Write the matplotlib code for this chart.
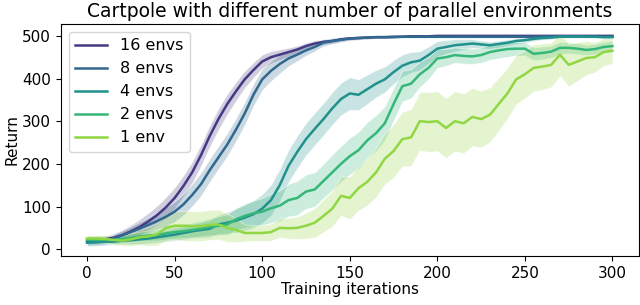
import numpy as np
import matplotlib
matplotlib.use("Agg")
import matplotlib.pyplot as plt
from matplotlib.colors import to_rgba

# training iterations, sampled every 5
iters = np.arange(0, 301, 5)

labels = ['16 envs', '8 envs', '4 envs', '2 envs', '1 env']

ret_16 = [22, 22, 23, 27, 33, 42, 52, 65, 80, 98, 120, 148, 180, 220, 265, 305,
          340, 370, 398, 420, 440, 450, 456, 462, 468, 476, 482, 486, 488, 492, 494,
          495, 496, 497, 497, 498, 498, 499, 499, 499, 500, 500, 500, 500, 500, 500,
          500, 500, 500, 500, 500, 500, 500, 500, 500, 500, 500, 500, 500, 500, 500]
ret_8 = [17, 17, 20, 25, 32, 40, 48, 57, 66, 76, 88, 105, 127, 152, 185, 215,
         245, 280, 318, 362, 398, 418, 434, 447, 456, 466, 474, 484, 488, 491, 494,
         495, 496, 497, 497, 497, 498, 498, 498, 498, 498, 498, 498, 498, 498, 498,
         498, 498, 498, 498, 498, 498, 499, 499, 499, 499, 499, 498, 498, 498, 498]
ret_4 = [15, 16, 17, 18, 20, 21, 23, 25, 28, 31, 34, 38, 42, 45, 48, 58,
         62, 67, 74, 82, 95, 115, 150, 195, 228, 258, 282, 305, 330, 352, 365,
         362, 375, 388, 398, 415, 430, 438, 442, 455, 470, 474, 478, 480, 482, 480,
         478, 481, 484, 488, 490, 493, 495, 496, 498, 498, 498, 498, 498, 497, 497]
ret_2 = [22, 22, 22, 21, 24, 27, 30, 32, 33, 37, 40, 42, 45, 48, 52, 55,
         58, 70, 78, 84, 88, 96, 102, 115, 120, 135, 140, 160, 180, 200, 218,
         232, 255, 272, 295, 340, 382, 388, 410, 425, 447, 450, 455, 453, 452, 455,
         462, 466, 469, 470, 470, 458, 460, 463, 472, 472, 470, 467, 469, 474, 476]
ret_1 = [25, 25, 24, 22, 20, 23, 28, 30, 35, 50, 55, 55, 54, 54, 57, 58,
         50, 45, 38, 38, 38, 40, 50, 49, 50, 55, 62, 78, 95, 125, 120,
         143, 158, 180, 212, 230, 258, 262, 300, 298, 300, 284, 300, 295, 310, 305,
         315, 340, 365, 398, 410, 425, 428, 432, 456, 432, 440, 448, 450, 462, 465]

# half width of the shaded band
band_16 = [8, 8, 8, 10, 12, 15, 18, 20, 22, 24, 25, 25, 25, 25, 25, 25,
           24, 22, 20, 18, 16, 14, 12, 10, 9, 8, 7, 6, 5, 4, 4,
           3, 3, 2, 2, 2, 2, 2, 2, 1, 1, 1, 1, 1, 1, 1,
           1, 1, 1, 1, 1, 1, 1, 1, 1, 1, 1, 1, 1, 1, 1]
band_8 = [7, 7, 8, 10, 12, 14, 16, 18, 20, 22, 24, 25, 26, 27, 27, 27,
          27, 27, 27, 26, 25, 24, 22, 18, 15, 12, 10, 8, 7, 6, 5,
          4, 4, 3, 3, 3, 3, 3, 3, 3, 3, 3, 3, 3, 3, 3,
          3, 3, 3, 3, 3, 3, 2, 2, 2, 2, 2, 2, 2, 2, 2]
band_4 = [8, 8, 8, 8, 8, 9, 10, 11, 12, 13, 14, 15, 16, 18, 20, 22,
          25, 28, 30, 32, 34, 36, 38, 38, 38, 38, 38, 38, 38, 38, 38,
          36, 34, 32, 30, 28, 26, 24, 22, 20, 18, 16, 14, 12, 10, 9,
          8, 8, 7, 7, 6, 5, 4, 4, 3, 3, 3, 3, 3, 3, 3]
band_2 = [8, 8, 8, 8, 9, 10, 11, 12, 13, 14, 15, 16, 17, 18, 20, 22,
          24, 26, 28, 30, 32, 34, 36, 38, 40, 40, 40, 40, 42, 42, 43,
          43, 43, 42, 40, 38, 36, 34, 30, 26, 22, 20, 18, 18, 18, 18,
          18, 18, 18, 16, 16, 15, 15, 14, 14, 13, 13, 12, 12, 12, 12]
band_1 = [8, 8, 9, 10, 12, 15, 18, 22, 26, 30, 33, 35, 35, 35, 35, 35,
          33, 28, 20, 18, 18, 20, 22, 24, 26, 30, 34, 38, 42, 46, 50,
          52, 55, 58, 60, 62, 64, 66, 68, 70, 70, 70, 70, 70, 68, 66,
          64, 62, 60, 58, 56, 55, 54, 52, 50, 50, 45, 40, 35, 32, 30]

means = [ret_16, ret_8, ret_4, ret_2, ret_1]
bands = [band_16, band_8, band_4, band_2, band_1]
colors = plt.cm.viridis(np.linspace(1 / 6, 5 / 6, 5))

plt.rcParams['font.size'] = 11
fig = plt.figure(figsize=(6.4, 3.05), dpi=100)
ax = fig.add_axes([0.095, 0.161, 0.903, 0.76])

for lab, m, b, c in zip(labels, means, bands, colors):
    m = np.array(m, dtype=float)
    b = np.array(b, dtype=float)
    ax.fill_between(iters, m - b, m + b, facecolor=to_rgba(c, 0.25),
                    edgecolor=(1, 1, 1, 0.6), lw=0.6)
    ax.plot(iters, m, color=c, lw=1.8, label=lab)

ax.set_xlim(-15, 315)
ax.set_ylim(-15.7, 527.6)
ax.set_xticks([0, 50, 100, 150, 200, 250, 300])
ax.set_yticks([0, 100, 200, 300, 400, 500])
ax.set_xlabel('Training iterations', labelpad=1)
ax.set_ylabel('Return', labelpad=2)
ax.set_title('Cartpole with different number of parallel environments', fontsize=13.5, pad=5)
ax.legend(loc='upper left', fontsize=11.5)
fig.savefig('out.png', dpi=100)
